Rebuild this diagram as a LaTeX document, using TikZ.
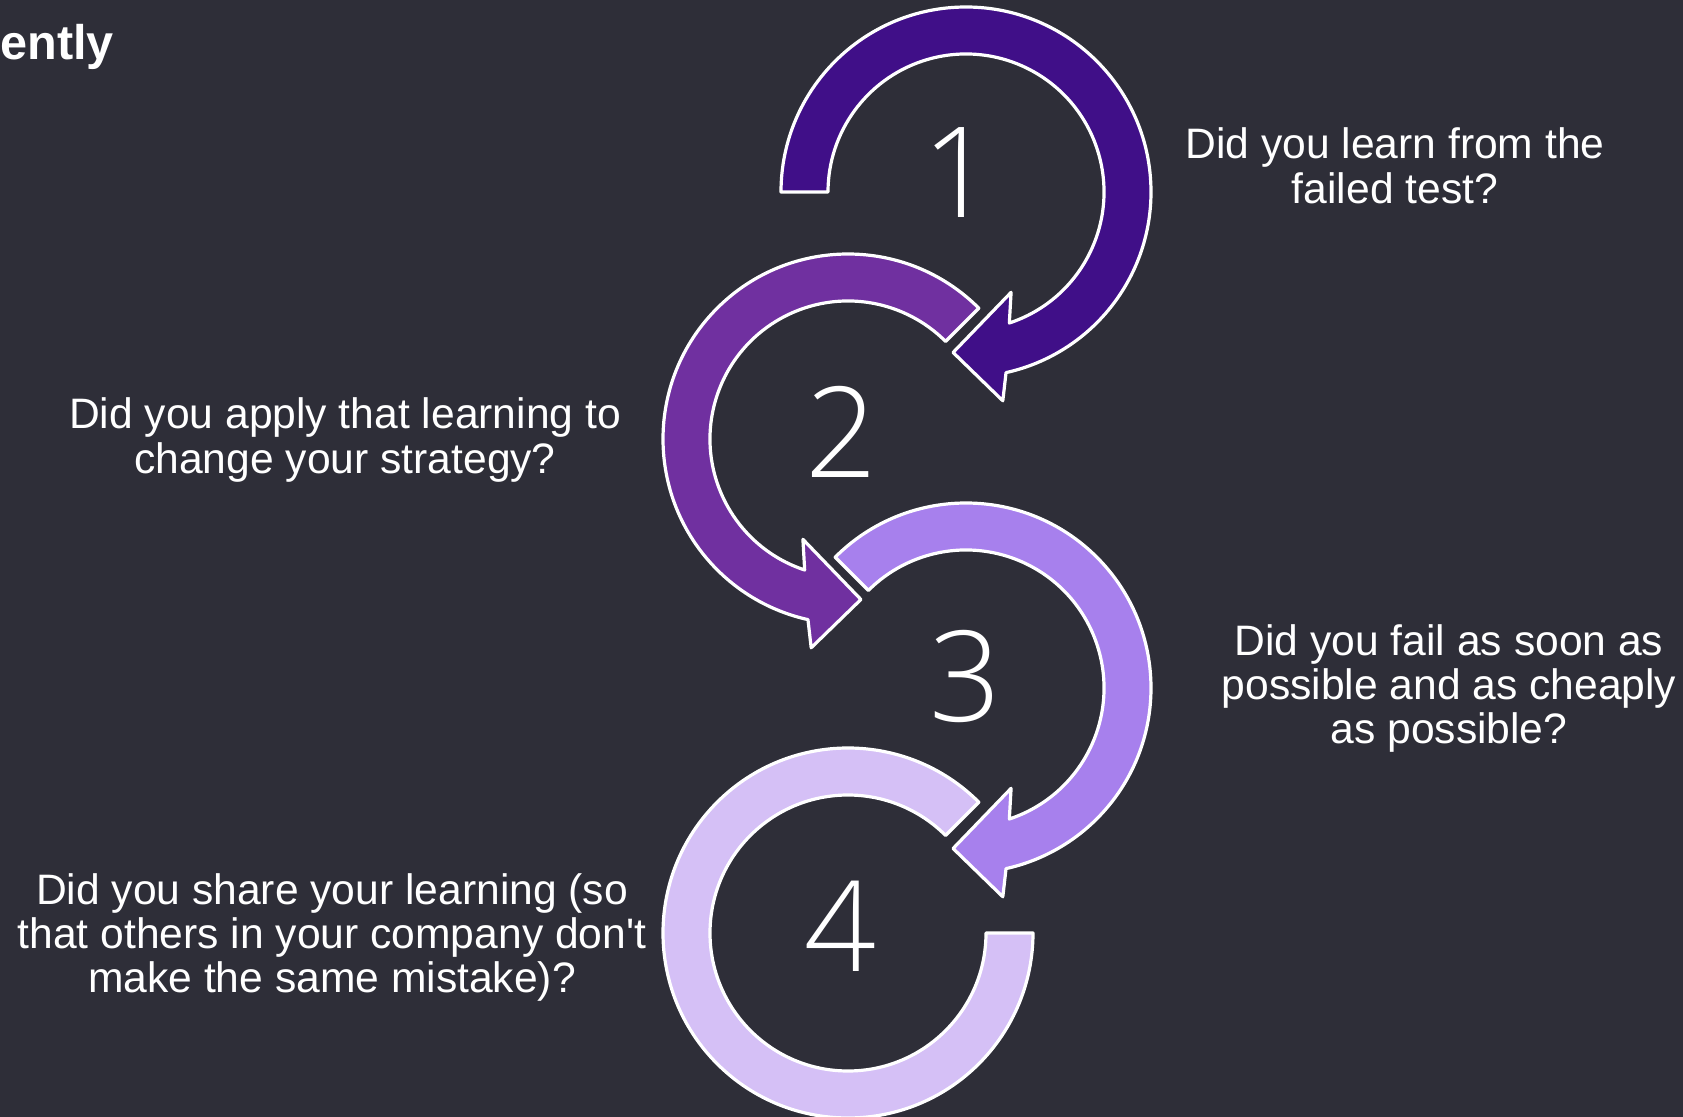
\documentclass[tikz,border=0pt]{standalone}
\usepackage{fontspec}
\setmainfont{Liberation Sans}
% same face without TeX ligature mapping, for a straight apostrophe
\newfontfamily\plainsans{Liberation Sans}
\IfFontExistsTF{Open Sans Light}
  {\newfontfamily\digitfont{Open Sans Light}}
  {\newfontfamily\digitfont{Open Sans}}

\definecolor{bgdark}{RGB}{46,46,56}
\definecolor{stepone}{RGB}{64,15,136}
\definecolor{steptwo}{RGB}{112,48,160}
\definecolor{stepthree}{RGB}{167,128,237}
\definecolor{stepfour}{RGB}{213,192,246}

\tikzset{
  band/.style={draw=white, line width=1.6pt, line join=round},
  qtext/.style={text=white, font=\fontsize{21.3}{22}\selectfont, inner sep=0pt, anchor=base},
  stepnum/.style={text=white, font=\digitfont\fontsize{63}{63}\selectfont, inner sep=0pt},
}

\begin{document}
\begin{tikzpicture}[x=0.5pt, y=0.5pt]
  % canvas
  \useasboundingbox (0,0) rectangle (1683,-1117);
  \fill[bgdark] (0,0) rectangle (1683,-1117);
  \clip (0,0) rectangle (1683,-1117);

  % fragment of the slide title
  \node[text=white, font=\bfseries\fontsize{24.3}{25}\selectfont, inner sep=0pt, anchor=base west]
    (title) at (0,-60) {ently};

  % step 1: clockwise arrow, open on the left
  \begin{scope}[shift={(966,-192)}]
    \path[band, fill=stepone]
      (180:185) arc[start angle=180, end angle=-77.5, radius=185]
      -- (-80:212) -- (-94.6:161) -- (-65.8:110) -- (-71.7:138)
      arc[start angle=-71.7, end angle=180, radius=138] -- cycle;
  \end{scope}

  % step 2: counter-clockwise arrow
  \begin{scope}[shift={(848,-439)}, xscale=-1]
    \path[band, fill=steptwo]
      (135:185) arc[start angle=135, end angle=-77.5, radius=185]
      -- (-80:212) -- (-94.6:161) -- (-65.8:110) -- (-71.7:138)
      arc[start angle=-71.7, end angle=135, radius=138] -- cycle;
  \end{scope}

  % step 3: clockwise arrow
  \begin{scope}[shift={(966,-688)}]
    \path[band, fill=stepthree]
      (135:185) arc[start angle=135, end angle=-77.5, radius=185]
      -- (-80:212) -- (-94.6:161) -- (-65.8:110) -- (-71.7:138)
      arc[start angle=-71.7, end angle=135, radius=138] -- cycle;
  \end{scope}

  % step 4: open ring without a head
  \begin{scope}[shift={(848,-933)}]
    \path[band, fill=stepfour]
      (45:185) arc[start angle=45, end angle=360, radius=185]
      -- (0:138) arc[start angle=360, end angle=45, radius=138] -- cycle;
  \end{scope}

  % step numbers
  \node[stepnum] (n1) at (958,-173) {1};
  \node[stepnum] (n2) at (841,-432) {2};
  \node[stepnum] (n3) at (965,-676) {3};
  \node[stepnum] (n4) at (840,-926) {4};

  % questions
  \node[qtext] (q1) at (1395,-159)
    {\begin{tabular}[t]{@{}c@{}}Did you learn from the\\failed test?\end{tabular}};
  \node[qtext] (q2) at (345,-429)
    {\begin{tabular}[t]{@{}c@{}}Did you apply that learning to\\change your strategy?\end{tabular}};
  \node[qtext] (q3) at (1449,-655)
    {\begin{tabular}[t]{@{}c@{}}Did you fail as soon as\\possible and as cheaply\\as possible?\end{tabular}};
  \node[qtext] (q4) at (332,-904)
    {\begin{tabular}[t]{@{}c@{}}Did you share your learning (so\\that others in your company don{\plainsans'}t\\make the same mistake)?\end{tabular}};
\end{tikzpicture}
\end{document}
